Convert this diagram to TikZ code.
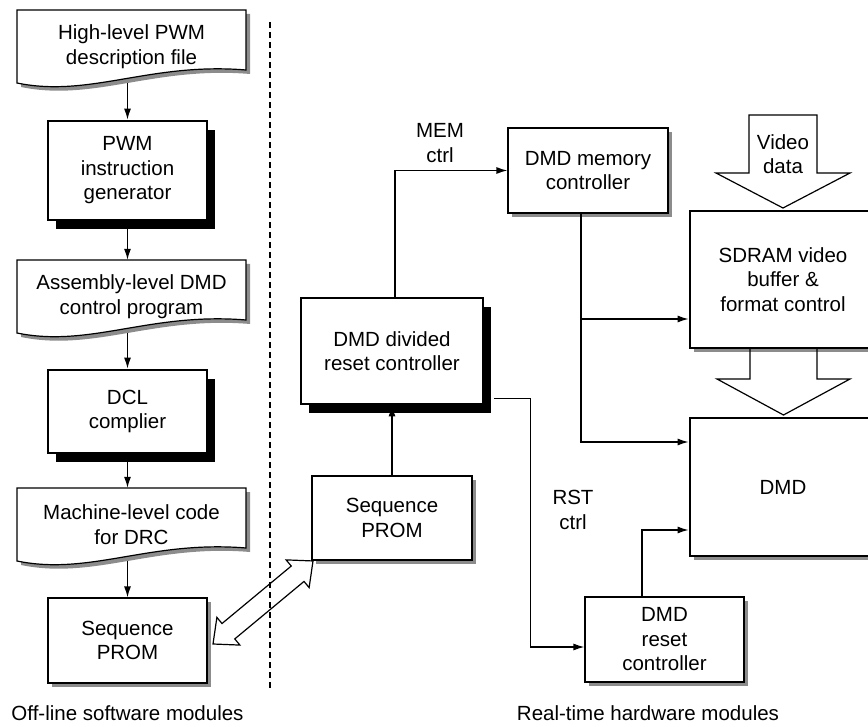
\documentclass[tikz,border=0pt]{standalone}
\usepackage{fontspec}
\setmainfont{Liberation Sans}
\usetikzlibrary{arrows.meta,shadows,calc}
\newcommand\fsz{\fontsize{20.5}{24.5}\selectfont}
\begin{document}
\begin{tikzpicture}[x=1pt,y=-1pt,
  box/.style={draw, fill=white, line width=1.2pt, align=center, inner sep=0pt, font=\fsz},
  tbox/.style={box, line width=2.8pt},
  bsh/.style={drop shadow={shadow xshift=8pt, shadow yshift=-9pt, fill=black, opacity=1}},
  gsh/.style={drop shadow={shadow xshift=4pt, shadow yshift=-4pt, fill=black!45, opacity=1}},
  doc/.style={minimum width=229pt, minimum height=73pt, inner sep=0pt, align=center, font=\fsz},
  lbl/.style={align=center, inner sep=0pt, font=\fsz},
  conn/.style={line width=1.2pt, -{Latex[length=11pt,width=7pt]}},
  docpic/.pic={
    \fill[black!45] (4,4) -- (233,4) -- (233,64) .. controls (137,56) and (77,92) .. (4,77) -- cycle;
    \draw[line width=1.2pt, fill=white] (0,0) -- (229,0) -- (229,60) .. controls (133,52) and (73,88) .. (0,73) -- cycle;
  }
]
\useasboundingbox (0,0) rectangle (868,727);
\clip (0,0) rectangle (868,727);

% left column
\pic at (17,10) {docpic};
\node[doc] (d1) at (131.5,46.5) {High-level PWM\\description file};
\node[tbox,bsh,minimum width=159pt,minimum height=99pt] (gen) at (127.5,170.5) {PWM\\instruction\\generator};
\pic at (17,260) {docpic};
\node[doc] (d2) at (131.5,296.5) {Assembly-level DMD\\control program};
\node[tbox,bsh,minimum width=159pt,minimum height=83pt] (dcl) at (127.5,411.5) {DCL\\complier};
\pic at (17,488) {docpic};
\node[doc] (d3) at (131.5,524.5) {Machine-level code\\for DRC};
\node[box,gsh,minimum width=159pt,minimum height=85pt] (promL) at (127.5,640.5) {Sequence\\PROM};

\draw[conn] (d1.south -| gen.north) -- (gen.north);
\draw[conn] (gen.south) -- (d2.north -| gen.south);
\draw[conn] (d2.south -| dcl.north) -- (dcl.north);
\draw[conn] (dcl.south) -- (d3.north -| dcl.south);
\draw[conn] (d3.south -| promL.north) -- (promL.north);

% divider
\draw[line width=1.2pt, dash pattern=on 6pt off 4pt] (270,22) -- (270,690);

% right part
\node[tbox,bsh,minimum width=182pt,minimum height=106pt] (div) at (392,351) {DMD divided\\reset controller};
\node[box,gsh,minimum width=160pt,minimum height=84pt] (promM) at (392,518) {Sequence\\PROM};
\node[box,gsh,minimum width=160pt,minimum height=85pt] (mem) at (588,170.5) {DMD memory\\controller};
\node[tbox,gsh,minimum width=186pt,minimum height=137pt] (sdram) at (783,279.5) {SDRAM video\\buffer \&\\format control};
\node[tbox,gsh,minimum width=186pt,minimum height=138pt] (dmd) at (783,487) {DMD};
\node[box,gsh,minimum width=159pt,minimum height=85pt] (rst) at (664.5,639.5) {DMD\\reset\\controller};

% video data block arrow
\draw[line width=1.2pt, fill=white] (749,115) -- (817,115) -- (817,173) -- (850,173) -- (783,208) -- (716,173) -- (749,173) -- cycle;
\node[lbl] (vid) at (783,154) {Video\\data};
% sdram to dmd block arrow
\draw[line width=1.2pt] (750,348) -- (750,379) -- (717,379) -- (783.5,415) -- (850,379) -- (817,379) -- (817,348);

% double block arrow between PROMs
\begin{scope}[shift={(213,644)}, rotate=39.7]
\draw[line width=1.2pt] (0,0) -- (20,-18) -- (20,-10) -- (110,-10) -- (110,-18) -- (130,0) -- (110,18) -- (110,10) -- (20,10) -- (20,18) -- cycle;
\end{scope}

% connectors
\draw[conn] ([xshift=3pt]div.north) |- (mem.west);
\node[lbl] (meml) at (440,143) {MEM\\ctrl};
\coordinate (mv) at ([xshift=-7pt]mem.south);
\draw[conn] (mv) |- ([yshift=45pt]dmd.west);
\coordinate (sdin) at ([yshift=-39.5pt]sdram.west);
\draw[conn] (mv |- sdin) -- (sdin);
\draw[conn] ([xshift=10pt,yshift=7pt]div.south east) -- ++(36,0) |- ([yshift=-7.5pt]rst.west);
\node[lbl] (rstl) at (573,510) {RST\\ctrl};
\draw[conn] ([xshift=-22.5pt]rst.north) |- ([yshift=-43pt]dmd.west);
\draw[conn] (promM) -- (div);

% captions
\node[lbl] (offl) at (127.5,713) {Off-line software modules};
\node[lbl] (realt) at (648,713) {Real-time hardware modules};
\end{tikzpicture}
\end{document}
